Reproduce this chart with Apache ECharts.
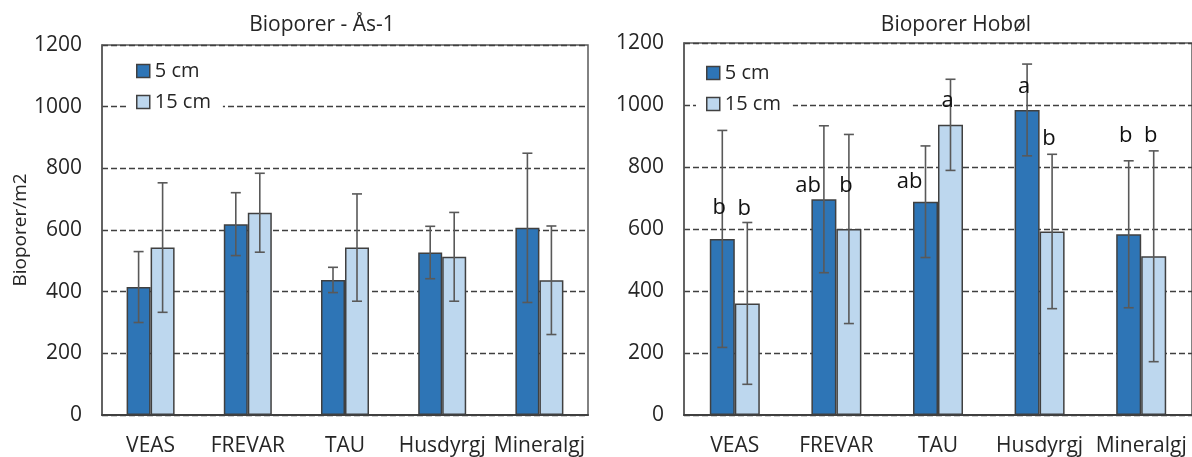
<!DOCTYPE html>
<html>
<head>
<meta charset="utf-8">
<script src="https://cdn.jsdelivr.net/npm/echarts@6/dist/echarts.min.js"></script>
<style>
  html, body { margin: 0; padding: 0; background: #fff; }
  #Chart { width: 1192px; height: 457px; }
</style>
</head>
<body>
<div id="Chart"></div>
<script>
const categories = ["VEAS", "FREVAR", "TAU", "Husdyrgj", "Mineralgj"]

// Ås-1
const as5 = [415, 619, 438, 527, 607]
const as5Err = [115, 102, 41, 85, 242]
const as15 = [543, 656, 543, 513, 437]
const as15Err = [210, 128, 174, 144, 176]

// Hobøl
const hob5 = [568, 696, 688, 984, 583]
const hob5Err = [350, 237, 180, 148, 237]
const hob15 = [360, 600, 936, 592, 512]
const hob15Err = [261, 305, 147, 249, 340]

// bokstaver (signifikans) og høyden de står i
const hob5Letters = ["b", "ab", "ab", "a", "b"]
const hob5LetterY = [669, 740, 751, 1059, 901]
const hob15Letters = ["b", "b", "a", "b", "b"]
const hob15LetterY = [666, 740, 1015, 890, 901]

const font = "'Open Sans', 'Noto Sans', sans-serif"
const textColor = "#262626"
const dark = "#2E75B6"
const light = "#BDD7EE"
const barW = 24

const chart = echarts.init(document.getElementById("Chart"), null, { renderer: "canvas" })

const errData = (mean, err) => mean.map((m, i) => [i, m + err[i], m - err[i]])

const errorBars = (offset) => (params, api) => {
  const cat = api.value(0)
  const hi = api.coord([cat, api.value(1)])
  const lo = api.coord([cat, api.value(2)])
  const x = hi[0] + offset
  const style = { stroke: "#595959", lineWidth: 1.6 }
  return {
    type: "group",
    children: [
      { type: "line", shape: { x1: x, y1: hi[1], x2: x, y2: lo[1] }, style },
      { type: "line", shape: { x1: x - 5, y1: hi[1], x2: x + 5, y2: hi[1] }, style },
      { type: "line", shape: { x1: x - 5, y1: lo[1], x2: x + 5, y2: lo[1] }, style }
    ]
  }
}

const letterMarks = (letters, offset) => (params, api) => {
  const p = api.coord([api.value(0), api.value(1)])
  const txt = letters[params.dataIndex]
  const long = txt.length > 1
  return {
    type: "text",
    x: p[0] + offset - 3,
    y: p[1],
    style: {
      text: txt,
      fill: "#111",
      font: "22px " + font,
      align: long ? "right" : "center",
      verticalAlign: "middle"
    }
  }
}

const yAxisBase = {
  type: "value",
  min: 0,
  max: 1200,
  interval: 200,
  axisLine: { show: true, lineStyle: { color: "#595959", width: 1.5 } },
  axisTick: { show: false },
  axisLabel: { color: textColor, fontSize: 21, fontFamily: font, margin: 20, formatter: (v) => String(v) },
  splitLine: { lineStyle: { color: "#404040", width: 1.3, type: [6, 3] } }
}

const xAxisBase = {
  type: "category",
  data: categories,
  axisLine: { show: true, lineStyle: { color: "#404040", width: 2 } },
  axisTick: { show: false },
  axisLabel: { color: textColor, fontSize: 21, fontFamily: font, margin: 21, interval: 0 }
}

const legendBase = {
  orient: "vertical",
  data: ["5 cm", "15 cm"],
  icon: "rect",
  itemWidth: 13,
  itemHeight: 13,
  itemGap: 11,
  backgroundColor: "#fff",
  padding: [4, 12, 4, 10],
  textStyle: { color: textColor, fontSize: 20, fontFamily: font },
  itemStyle: { borderColor: "#404040", borderWidth: 1.5 }
}

const barStyle = (color) => ({ color, borderColor: "#404040", borderWidth: 1.5 })

const option = {
  animation: false,
  backgroundColor: "#fff",
  textStyle: { fontFamily: font },
  title: [
    { text: "Bioporer - Ås-1", left: 317, top: 10, textAlign: "center",
      textStyle: { color: textColor, fontSize: 21, fontWeight: "normal", fontFamily: font } },
    { text: "Bioporer Hobøl", left: 951, top: 10, textAlign: "center",
      textStyle: { color: textColor, fontSize: 21, fontWeight: "normal", fontFamily: font } }
  ],
  legend: [
    Object.assign({}, legendBase, { left: 126, top: 57 }),
    Object.assign({}, legendBase, { left: 696, top: 59 })
  ],
  grid: [
    { left: 102, top: 45, width: 486, height: 371, show: true, borderColor: "#595959", borderWidth: 1.5 },
    { left: 684, top: 43, width: 524, height: 372, show: true, borderColor: "#595959", borderWidth: 1.5 }
  ],
  xAxis: [
    Object.assign({}, xAxisBase, { gridIndex: 0 }),
    Object.assign({}, xAxisBase, { gridIndex: 1 })
  ],
  yAxis: [
    Object.assign({}, yAxisBase, {
      gridIndex: 0,
      name: "Bioporer/m2",
      nameLocation: "middle",
      nameGap: 72,
      nameTextStyle: { color: textColor, fontSize: 19, fontFamily: font }
    }),
    Object.assign({}, yAxisBase, { gridIndex: 1 })
  ],
  series: [
    { name: "5 cm", type: "bar", xAxisIndex: 0, yAxisIndex: 0, barWidth: barW, barGap: "0%",
      itemStyle: barStyle(dark), data: as5 },
    { name: "15 cm", type: "bar", xAxisIndex: 0, yAxisIndex: 0, barWidth: barW, barGap: "0%",
      itemStyle: barStyle(light), data: as15 },
    { name: "5 cm", type: "bar", xAxisIndex: 1, yAxisIndex: 1, barWidth: barW + 1, barGap: "0%",
      itemStyle: barStyle(dark), data: hob5 },
    { name: "15 cm", type: "bar", xAxisIndex: 1, yAxisIndex: 1, barWidth: barW + 1, barGap: "0%",
      itemStyle: barStyle(light), data: hob15 },
    { type: "custom", xAxisIndex: 0, yAxisIndex: 0, z: 5, renderItem: errorBars(-barW / 2),
      data: errData(as5, as5Err) },
    { type: "custom", xAxisIndex: 0, yAxisIndex: 0, z: 5, renderItem: errorBars(barW / 2),
      data: errData(as15, as15Err) },
    { type: "custom", xAxisIndex: 1, yAxisIndex: 1, z: 5, renderItem: errorBars(-(barW + 1) / 2),
      data: errData(hob5, hob5Err) },
    { type: "custom", xAxisIndex: 1, yAxisIndex: 1, z: 5, renderItem: errorBars((barW + 1) / 2),
      data: errData(hob15, hob15Err) },
    { type: "custom", xAxisIndex: 1, yAxisIndex: 1, z: 6, renderItem: letterMarks(hob5Letters, -(barW + 1) / 2),
      data: hob5LetterY.map((y, i) => [i, y]) },
    { type: "custom", xAxisIndex: 1, yAxisIndex: 1, z: 6, renderItem: letterMarks(hob15Letters, (barW + 1) / 2),
      data: hob15LetterY.map((y, i) => [i, y]) }
  ]
}

chart.setOption(option)
</script>
</body>
</html>
